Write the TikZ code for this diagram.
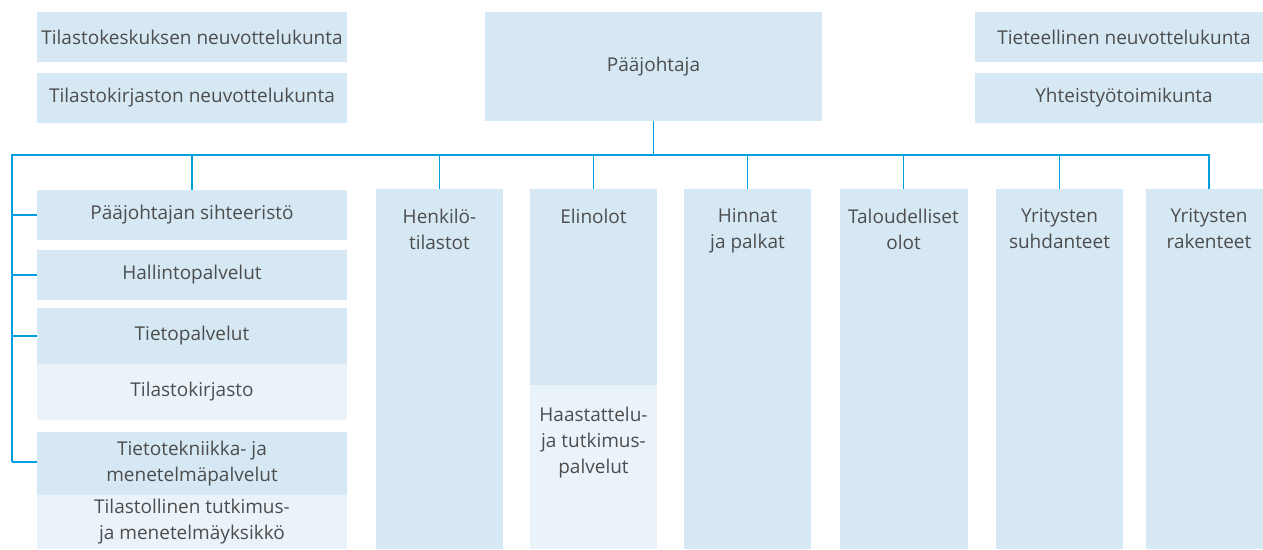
\documentclass[tikz,border=0pt]{standalone}
\usepackage{fontspec}
\setmainfont{Open Sans}
\definecolor{boxblue}{RGB}{214,232,244}
\definecolor{boxlight}{RGB}{234,243,250}
\definecolor{linecol}{RGB}{0,158,224}
\definecolor{txt}{RGB}{77,77,77}
\tikzset{
  orgbox/.style={fill=boxblue, draw=none, inner sep=0pt, text=txt, align=center,
    font=\fontsize{19}{26}\selectfont},
  lightbox/.style={orgbox, fill=boxlight},
  coltext/.style={inner sep=0pt, text=txt, align=center, anchor=north,
    font=\fontsize{19}{26}\selectfont},
  conn/.style={draw=linecol, line width=1.6pt},
}
\begin{document}
\begin{tikzpicture}[x=1pt,y=-1pt]
\path[use as bounding box, clip] (0,0) rectangle (1263,549);
% top-left
\node[orgbox, minimum width=310pt, minimum height=50pt] (tk) at (192,37) {Tilastokeskuksen neuvottelukunta};
\node[orgbox, minimum width=310pt, minimum height=50pt] (tkn) at (192,98) {Tilastokirjaston neuvottelukunta};
% director
\node[orgbox, minimum width=337pt, minimum height=109pt] (pj) at (653.5,66.5) {Pääjohtaja};
% top-right
\node[orgbox, minimum width=298pt, minimum height=50pt] (tn) at (1124,37) {Tieteellinen neuvottelukunta};
\node[orgbox, minimum width=298pt, minimum height=50pt] (yt) at (1124,98) {Yhteistyötoimikunta};
% left column
\node[orgbox, minimum width=310pt, minimum height=50pt] (ps) at (192,215) {Pääjohtajan sihteeristö};
\node[orgbox, minimum width=310pt, minimum height=50pt] (hp) at (192,275) {Hallintopalvelut};
\node[orgbox, minimum width=310pt, minimum height=56pt] (tp) at (192,336) {Tietopalvelut};
\node[lightbox, minimum width=310pt, minimum height=56pt] (tkir) at (192,392) {Tilastokirjasto};
\node[orgbox, minimum width=310pt, minimum height=63pt] (tt) at (192,463.5) {Tietotekniikka- ja\\menetelmäpalvelut};
\node[lightbox, minimum width=310pt, minimum height=54pt] (tm) at (192,522) {Tilastollinen tutkimus-\\ja menetelmäyksikkö};
% columns
\node[orgbox, minimum width=127pt, minimum height=360pt] (he) at (439.5,369) {};
\node[coltext] (het) at ([yshift=-20pt]he.north) {Henkilö-\\tilastot};
\node[orgbox, minimum width=127pt, minimum height=196pt] (el) at (593.5,287) {};
\node[coltext] (elt) at ([yshift=-20pt]el.north) {Elinolot};
\node[lightbox, minimum width=127pt, minimum height=164pt] (ha) at (593.5,467) {};
\node[coltext] (hat) at ([yshift=-22pt]ha.north) {Haastattelu-\\ja tutkimus-\\palvelut};
\node[orgbox, minimum width=127pt, minimum height=360pt] (hi) at (747.5,369) {};
\node[coltext] (hit) at ([yshift=-20pt]hi.north) {Hinnat\\ja palkat};
\node[orgbox, minimum width=128pt, minimum height=360pt] (ta) at (903.5,369) {};
\node[coltext] (tat) at ([yshift=-20pt]ta.north) {Taloudelliset\\olot};
\node[orgbox, minimum width=127pt, minimum height=360pt] (ys) at (1059.5,369) {};
\node[coltext] (yst) at ([yshift=-20pt]ys.north) {Yritysten\\suhdanteet};
\node[orgbox, minimum width=127pt, minimum height=360pt] (yr) at (1209,369) {};
\node[coltext] (yrt) at ([yshift=-20pt]yr.north) {Yritysten\\rakenteet};
% connectors
\coordinate (busL) at (12,155);
\coordinate (busR) at (1209,155);
\coordinate (stemB) at (12,462);
\draw[conn] (pj.south) -- (pj.south |- busL);
\draw[conn] (stemB) -- (busL) -- (busR) -- (yr.north);
\foreach \n in {ps,he,el,hi,ta,ys}
  \draw[conn] (\n.north |- busL) -- (\n.north);
\foreach \n in {ps,hp,tp}
  \draw[conn] (\n.west -| busL) -- (\n.west);
\draw[conn] (stemB) -- (stemB -| tt.west);
\end{tikzpicture}
\end{document}
